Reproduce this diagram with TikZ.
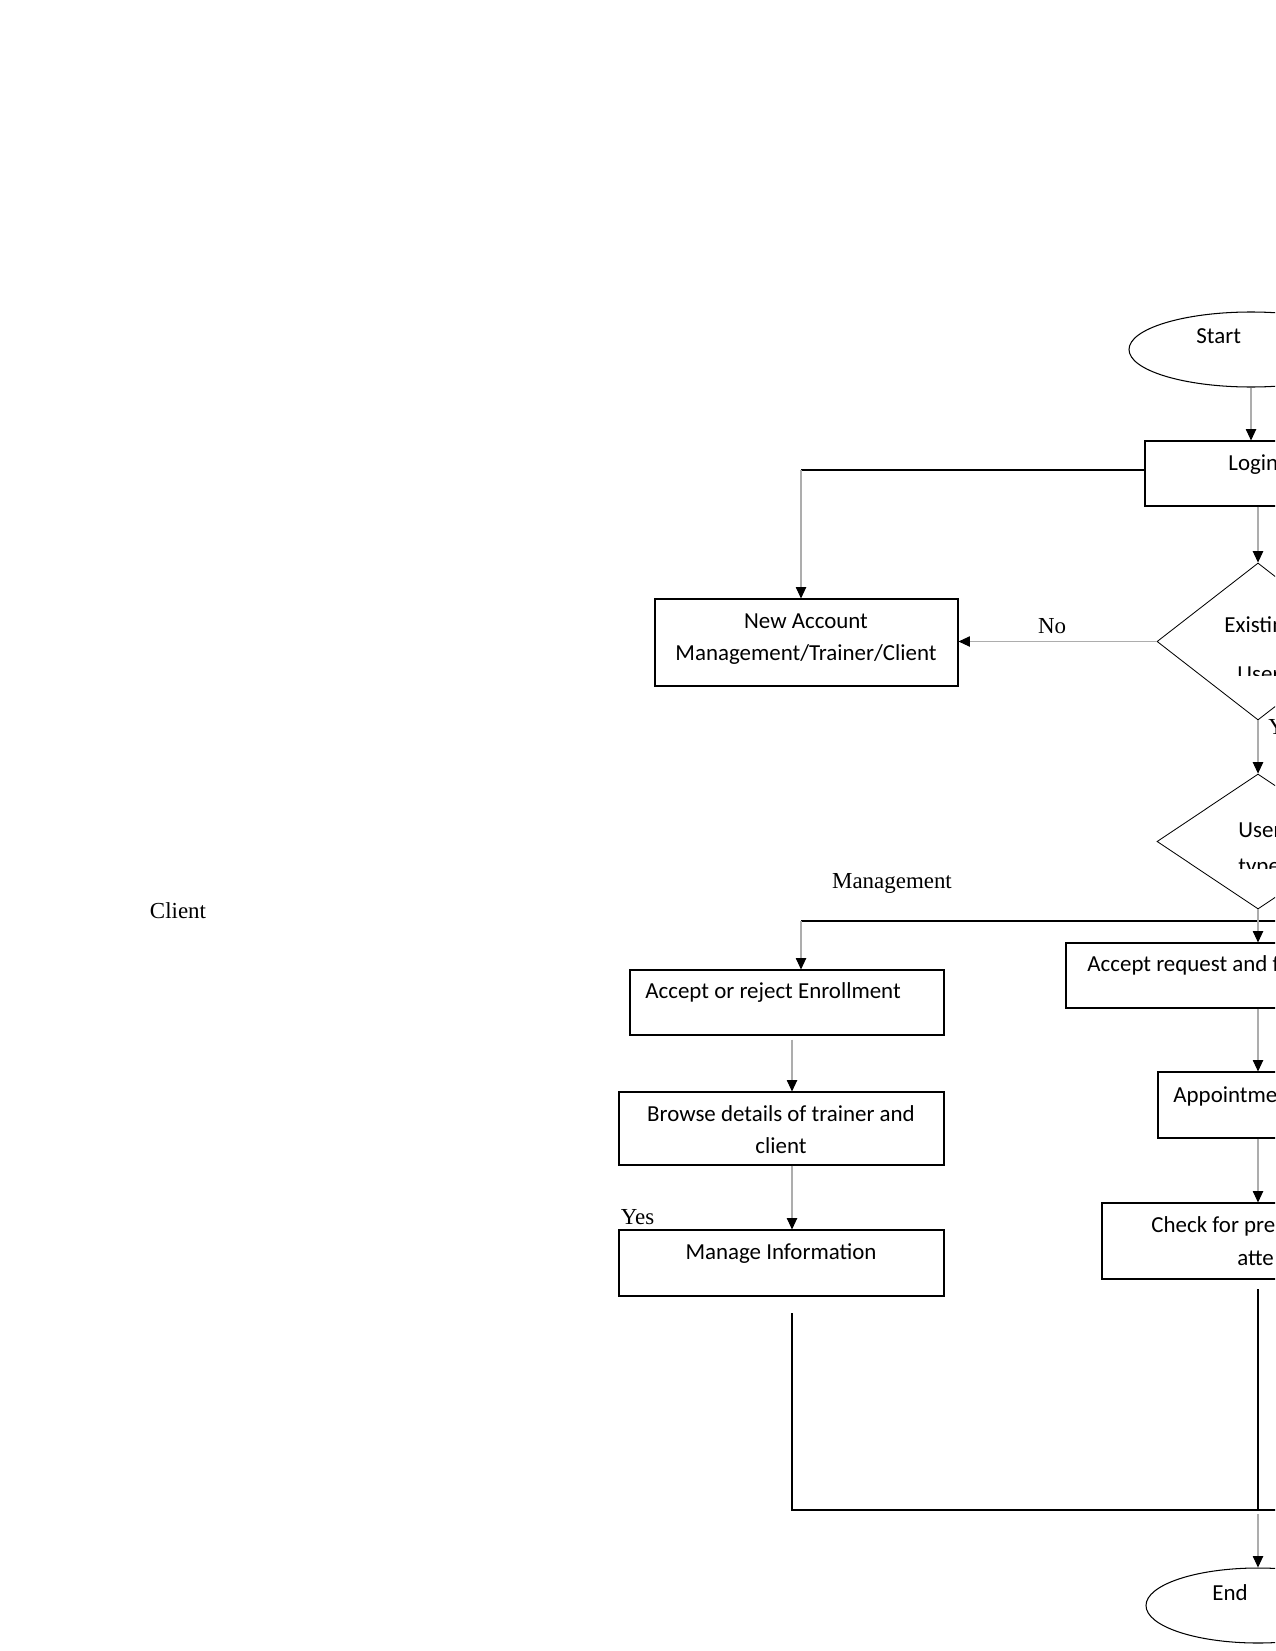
\documentclass[tikz,border=0pt]{standalone}
\usepackage{fontspec}
\setmainfont{Liberation Serif}
\newfontfamily\boxfont{Carlito}
\usetikzlibrary{arrows.meta,shapes.geometric}
\newcommand{\px}{0.48pt}

\begin{document}
\begin{tikzpicture}[x=0.48pt,y=-0.48pt,
  outline/.style={draw,line width=0.5pt,inner sep=0pt},
  box/.style={outline,rectangle},
  oval/.style={outline,ellipse},
  choice/.style={draw,line width=0.4pt,diamond,inner sep=0pt},
  btxt/.style={font=\boxfont\fontsize{11}{15.4}\selectfont,inner sep=0pt},
  bline/.style={btxt,text height=7pt,text depth=0pt},
  lbl/.style={font=\fontsize{11}{13}\selectfont,inner sep=0pt,text height=7pt,text depth=0pt},
  conn/.style={draw=black!32,line width=0.5pt,-{Triangle[length=5.5pt,width=5pt,color=black,fill=black]}},
  line/.style={draw=black,line width=0.55pt}]
\useasboundingbox (0,0) rectangle (1275,1651);
\clip (0,0) rectangle (1275,1651);

% shapes
\node[oval,minimum width=244*\px,minimum height=75*\px] (start) at (1251,349.5) {};
\node[box,minimum width=226*\px,minimum height=65*\px] (login) at (1258,473.5) {};
\node[choice,minimum width=202*\px,minimum height=157*\px] (exist) at (1258,641.5) {};
\node[box,minimum width=303*\px,minimum height=87*\px] (newacc) at (806.5,642.5) {};
\node[choice,minimum width=202*\px,minimum height=135*\px] (utype) at (1258,841.5) {};
\node[box,minimum width=314*\px,minimum height=65*\px] (accrej) at (787,1002.5) {};
\node[box,minimum width=325*\px,minimum height=73*\px] (browse) at (781.5,1128.5) {};
\node[box,minimum width=325*\px,minimum height=66*\px] (manage) at (781.5,1263) {};
\node[box,minimum width=384*\px,minimum height=65*\px] (accreq) at (1258,975.5) {};
\node[box,minimum width=200*\px,minimum height=66*\px] (appoint) at (1258,1105) {};
\node[box,minimum width=312*\px,minimum height=76*\px] (check) at (1258,1241) {};
\node[oval,minimum width=224*\px,minimum height=75*\px] (stop) at (1258,1605.5) {};

% texts
\node[bline,anchor=west] (start-t) at (1196,336) {Start};
\node[bline,anchor=west] (login-t) at (1228,463.5) {Login};
\begin{scope}
  \clip (1150,600) rectangle (1275,675);
  \node[bline,anchor=west] (exist-t1) at (1224,625.5) {Existing};
  \node[bline,anchor=west] (exist-t2) at (1237,674.5) {User};
\end{scope}
\begin{scope}
  \clip (1150,800) rectangle (1275,868);
  \node[bline,anchor=west] (utype-t1) at (1238,830.5) {User};
  \node[bline,anchor=west] (utype-t2) at (1238,866.5) {type};
\end{scope}
\node[btxt,align=center] (newacc-t) at (806,639.5) {New Account\\Management/Trainer/Client};
\node[bline,anchor=west] (accrej-t) at (645,991) {Accept or reject Enrollment};
\node[btxt,align=center] (browse-t) at (781,1130) {Browse details of trainer and\\client};
\node[bline] (manage-t) at (781,1252.5) {Manage Information};
\node[bline,anchor=west] (accreq-t) at (1087,964.5) {Accept request and f};
\node[bline,anchor=west] (appoint-t) at (1173,1095) {Appointme};
\node[bline,anchor=west] (check-t1) at (1151,1225.5) {Check for pre};
\node[bline,anchor=west] (check-t2) at (1237,1258) {atte};
\node[bline,anchor=west] (stop-t) at (1212,1593) {End};

% labels
\node[lbl] (no) at (1052,626.5) {No};
\node[lbl,anchor=west] (yes1) at (1268,727) {Yes};
\node[lbl] (mgmt) at (892,881.5) {Management};
\node[lbl] (client) at (178,911.5) {Client};
\node[lbl] (yes2) at (637.5,1217.5) {Yes};

% connectors
\coordinate (c1) at (801,470);
\coordinate (c2) at (801,921);
\coordinate (c2e) at (1290,921);
\coordinate (m1) at (792,1313);
\coordinate (b2) at (1290,1510);
\coordinate (c3) at (1258,1289);

\draw[conn] (start.south) -- (start.south |- login.north);
\draw[line] (c1 -| login.west) -- (c1);
\draw[conn] (c1) -- (c1 |- newacc.north);
\draw[conn] (login.south) -- (exist.north);
\draw[conn] (exist.west) -- (exist.west -| newacc.east);
\draw[conn] (exist.south) -- (utype.north);
\draw[line] (c2) -- (c2e);
\draw[conn] (c2) -- (c2 |- accrej.north);
\draw[conn] (utype.south) -- (accreq.north);
\draw[conn] (accreq.south) -- (appoint.north);
\draw[conn] (appoint.south) -- (check.north);
\draw[conn,shorten <=2pt] (accrej.south -| m1) -- (browse.north -| m1);
\draw[conn] (browse.south -| m1) -- (manage.north -| m1);
\draw[line] (m1) |- (b2);
\draw[line] (c3) -- (c3 |- b2);
\draw[conn,shorten <=2pt] (c3 |- b2) -- (stop.north);
\end{tikzpicture}
\end{document}
